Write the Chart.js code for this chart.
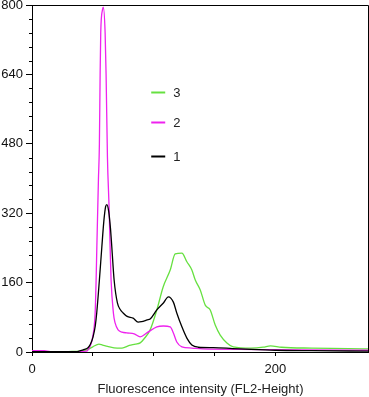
<!DOCTYPE html>
<html><head><meta charset="utf-8">
<script src="https://cdn.jsdelivr.net/npm/chart.js@4"></script>
<style>html,body{margin:0;padding:0;background:#fff}canvas{display:block}</style>
</head><body>
<canvas id="c" width="369" height="397"></canvas>
<script>
const seriesLabels = ['1', '2', '3'];
const seriesColors = ['#000000', '#ee22ee', '#66e040'];

const series1X = [0, 30, 37, 40, 43, 46, 48, 50.2, 52, 53.2, 55.4, 57.4, 59, 60.5, 61.5, 63, 64.5, 65.6, 67.5, 70.2, 72.5, 74.9, 78.2, 83.1, 87.2, 90, 94.7, 97.1, 102.6, 108, 112.1, 116.2, 119, 123.2, 127.3, 131.4, 136.6, 149, 165, 180, 200, 230, 277];
const series1Y = [1, 1, 1, 3, 6, 10, 18, 35, 60, 90, 166, 242, 300, 335, 340, 325, 285, 242, 166, 113, 98, 90, 82, 78, 69, 70, 74, 76, 97, 113, 127, 115, 90, 58, 32, 16, 11, 10, 8, 6, 4, 3, 2];

const series2X = [0, 10, 15, 35, 45, 46, 48, 49.9, 51.9, 52.7, 53.3, 54.6, 55.4, 56, 56.5, 58, 58.6, 60.1, 60.9, 62, 63.4, 64.2, 65, 66.9, 68.3, 70.8, 74, 78, 84, 88.9, 94.4, 102.6, 108, 113.6, 116.2, 119, 123.2, 131.4, 140, 170, 220, 277];
const series2Y = [3, 3, 1, 1, 2, 5, 15, 35, 90, 166, 242, 397, 480, 640, 736, 790, 795, 736, 640, 450, 330, 242, 166, 90, 67, 51, 46, 44, 42, 35, 44, 58, 60, 58, 44, 23, 12, 9, 7, 6, 5, 4];

const series3X = [0, 20, 30, 40, 45, 50, 55, 58, 62, 70, 74, 80, 85, 88.9, 92, 97.1, 102.6, 107.8, 113.6, 117.7, 123.2, 127.3, 131.4, 134.2, 138.3, 142.4, 146.5, 150.6, 154.7, 160.2, 165.4, 180, 190, 196, 205, 230, 260, 277];
const series3Y = [0, 0, 1, 2, 5, 12, 18, 16, 13, 9, 9, 15, 18, 21, 30, 51, 97, 150, 189, 226, 228, 208, 189, 166, 143, 108, 97, 62, 39, 21, 12, 9, 11, 14, 11, 9, 8, 7];

const yTickLabels = [0, 160, 320, 480, 640, 800];
const yMinorStep = 32;
const xTickLabels = [0, 200];
const xTickStep = 50;
const xMax = 277;
const yMax = 800;
const xTitle = 'Fluorescence intensity (FL2-Height)';
// legend anchor in data units (x start, x end, text x; y for each entry)
const legendOrder = [2, 1, 0];
const legendX = [98, 109.5, 116];
const legendY = [600, 530, 452];

function pts(xs, ys) { return xs.map((x, i) => ({ x: x, y: ys[i] })); }

const FONT = "'Liberation Sans', Arial, Helvetica, sans-serif";

const framePlugin = {
  id: 'frame',
  afterDraw(chart) {
    const { ctx, chartArea: a, scales } = chart;
    ctx.save();
    ctx.strokeStyle = '#000';
    ctx.lineWidth = 1;
    ctx.beginPath();
    ctx.moveTo(a.left, a.top + 0.5);
    ctx.lineTo(a.right - 0.5, a.top + 0.5);
    ctx.lineTo(a.right - 0.5, a.bottom);
    ctx.stroke();
    const y = scales.y;
    ctx.beginPath();
    for (let v = 0; v <= yMax; v += yMinorStep) {
      if (yTickLabels.includes(v)) continue;
      const py = Math.round(y.getPixelForValue(v)) + 0.5;
      ctx.moveTo(a.left - 3, py);
      ctx.lineTo(a.left, py);
    }
    ctx.stroke();
    const x = scales.x;
    ctx.font = '13px ' + FONT;
    ctx.textBaseline = 'middle';
    ctx.fillStyle = '#222';
    legendOrder.forEach((di, k) => {
      const ds = chart.data.datasets[di];
      const py = Math.round(y.getPixelForValue(legendY[k])) + 0.5;
      ctx.strokeStyle = ds.borderColor;
      ctx.lineWidth = 2;
      ctx.beginPath();
      ctx.moveTo(x.getPixelForValue(legendX[0]), py);
      ctx.lineTo(x.getPixelForValue(legendX[1]), py);
      ctx.stroke();
      ctx.fillText(ds.label, x.getPixelForValue(legendX[2]), py + 1);
    });
    ctx.restore();
  }
};

new Chart(document.getElementById('c'), {
  type: 'line',
  data: {
    datasets: [0, 1, 2].map(i => ({
      label: seriesLabels[i],
      data: pts([series1X, series2X, series3X][i], [series1Y, series2Y, series3Y][i]),
      borderColor: seriesColors[i],
      borderWidth: 1.3,
      pointRadius: 0,
      fill: false,
      cubicInterpolationMode: 'monotone'
    }))
  },
  options: {
    responsive: false,
    animation: false,
    devicePixelRatio: 1,
    layout: { padding: { top: 5, right: 0, left: 0, bottom: 0 } },
    plugins: { legend: { display: false }, tooltip: { enabled: false } },
    scales: {
      x: {
        type: 'linear', min: 0, max: xMax,
        afterFit(s) { s.height = 45; s.paddingLeft = 0; s.paddingRight = 0; },
        border: { color: '#000', width: 1 },
        grid: { drawOnChartArea: false, tickLength: 4, color: '#000' },
        ticks: {
          stepSize: xTickStep, autoSkip: false, maxRotation: 0, padding: 6,
          color: '#111', font: { family: FONT, size: 13 },
          callback: v => xTickLabels.includes(v) ? String(v) : ''
        },
        title: { display: true, text: xTitle, color: '#222', font: { family: FONT, size: 13 }, padding: { top: 4, bottom: 0 } }
      },
      y: {
        type: 'linear', min: 0, max: yMax,
        afterFit(s) { s.width = 32; s.paddingTop = 0; s.paddingBottom = 0; },
        border: { color: '#000', width: 1 },
        grid: { drawOnChartArea: false, tickLength: 6, color: '#000' },
        ticks: {
          stepSize: 160, autoSkip: false, padding: 3,
          color: '#111', font: { family: FONT, size: 13 },
          callback: v => yTickLabels.includes(v) ? String(v) : ''
        }
      }
    }
  },
  plugins: [framePlugin]
});
</script>
</body></html>
